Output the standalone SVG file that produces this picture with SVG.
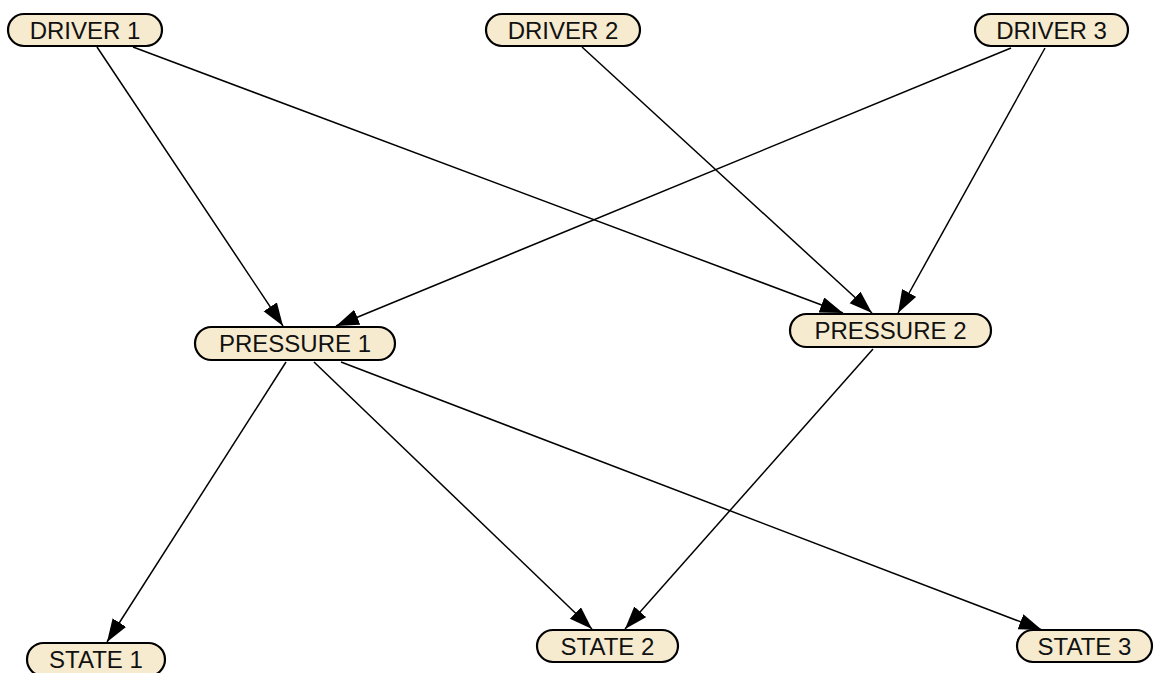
<svg xmlns="http://www.w3.org/2000/svg" width="1154" height="673" viewBox="0 0 1154 673">
  <defs>
    <marker id="arrow" markerUnits="userSpaceOnUse" markerWidth="26" markerHeight="18" refX="23" refY="8" orient="auto">
      <path d="M0,0 L23,8 L0,16 z" fill="#000"/>
    </marker>
    <style>
      .node rect { fill: #F6EBCF; stroke: #000; stroke-width: 2.2; }
      .node text { font-family: "Liberation Sans", Arial, sans-serif; font-size: 24px; fill: #111; text-anchor: middle; }
      .edge { stroke: #000; stroke-width: 1.5; fill: none; marker-end: url(#arrow); }
    </style>
  </defs>
  <rect width="1154" height="673" fill="#fff"/>

  <g id="connectors">
    <line class="edge" x1="97" y1="47" x2="283" y2="326"/>
    <line class="edge" x1="133" y1="47" x2="843" y2="313"/>
    <line class="edge" x1="582" y1="47" x2="872" y2="313"/>
    <line class="edge" x1="1011" y1="48" x2="336" y2="326"/>
    <line class="edge" x1="1045" y1="48" x2="898" y2="313"/>
    <line class="edge" x1="286" y1="362" x2="107" y2="642"/>
    <line class="edge" x1="314" y1="362" x2="592" y2="629"/>
    <line class="edge" x1="341" y1="362" x2="1042" y2="630"/>
    <line class="edge" x1="873" y1="349" x2="625" y2="629"/>
  </g>

  <g id="driver1" class="node">
    <rect x="8" y="14" width="154" height="32" rx="16"/>
    <text x="85" y="38.5">DRIVER 1</text>
  </g>
  <g id="driver2" class="node">
    <rect x="486" y="14" width="154" height="32" rx="16"/>
    <text x="563" y="38.5">DRIVER 2</text>
  </g>
  <g id="driver3" class="node">
    <rect x="975" y="14" width="153" height="32" rx="16"/>
    <text x="1051.5" y="38.5">DRIVER 3</text>
  </g>
  <g id="pressure1" class="node">
    <rect x="195" y="327" width="200" height="33" rx="16.5"/>
    <text x="295" y="352">PRESSURE 1</text>
  </g>
  <g id="pressure2" class="node">
    <rect x="790" y="314" width="201" height="33" rx="16.5"/>
    <text x="890.5" y="339">PRESSURE 2</text>
  </g>
  <g id="state1" class="node">
    <rect x="27" y="643" width="138" height="33" rx="16.5"/>
    <text x="96" y="668">STATE 1</text>
  </g>
  <g id="state2" class="node">
    <rect x="537" y="630" width="141" height="32" rx="16"/>
    <text x="607.5" y="654.5">STATE 2</text>
  </g>
  <g id="state3" class="node">
    <rect x="1017" y="630" width="135" height="32" rx="16"/>
    <text x="1084.5" y="654.5">STATE 3</text>
  </g>
</svg>
